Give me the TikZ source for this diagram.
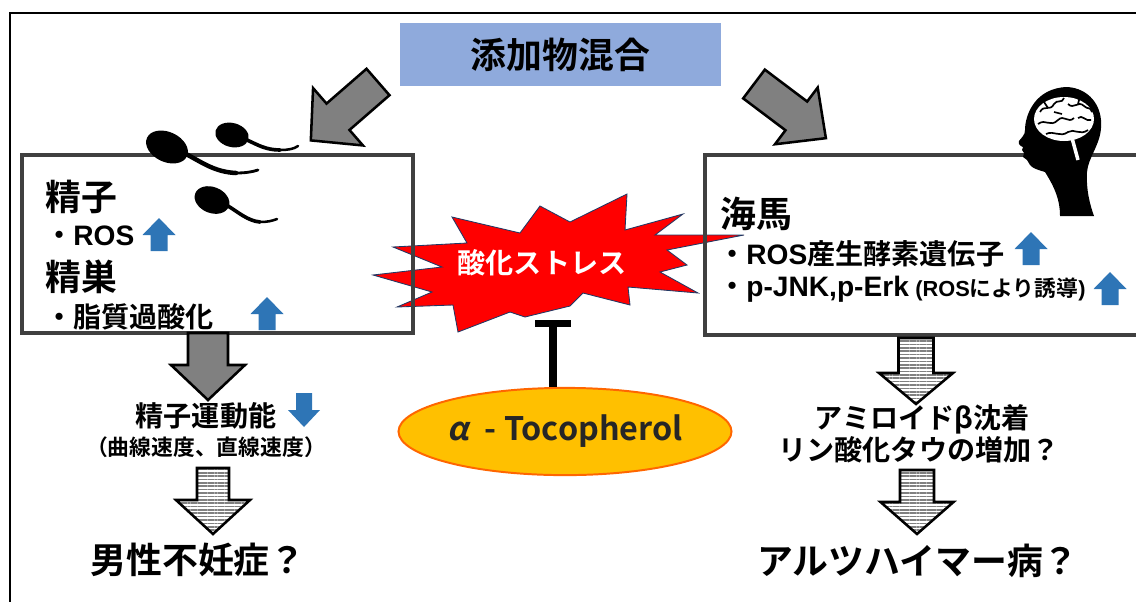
\documentclass[tikz,border=0pt]{standalone}
\usepackage{fontspec}
\setmainfont{Noto Sans CJK JP}[BoldFont={Noto Sans CJK JP Bold}]
\newfontfamily\latinfont{Liberation Sans}
\usetikzlibrary{arrows.meta,positioning,shapes.geometric,patterns.meta}

\definecolor{mixblue}{HTML}{8FAADC}
\definecolor{boxgray}{HTML}{404040}
\definecolor{arrowgray}{HTML}{808080}
\definecolor{markblue}{HTML}{2E75B6}
\definecolor{burstred}{HTML}{FF0000}
\definecolor{burstedge}{HTML}{203864}
\definecolor{tocofill}{HTML}{FFC000}
\definecolor{tocoedge}{HTML}{FF6600}
\definecolor{tocotext}{HTML}{262626}

% block arrow pointing down from its origin:
% shaft width, shaft length, head width, head length
\tikzset{
  pics/blockarrow/.style n args={4}{code={
    \path[pic actions] (-#1/2,0) -- (#1/2,0) -- (#1/2,#2) -- (#3/2,#2)
      -- (0,#2+#4) -- (-#3/2,#2) -- (-#1/2,#2) -- cycle;
  }}
}

\begin{document}
\begin{tikzpicture}[
  x=0.025cm, y=-0.025cm,
  bigtext/.style={font=\bfseries\fontsize{25.5pt}{30pt}\selectfont, inner sep=0pt},
  midtext/.style={font=\bfseries\fontsize{20pt}{24pt}\selectfont, inner sep=0pt},
  smalltext/.style={font=\bfseries\fontsize{15.5pt}{18pt}\selectfont, inner sep=0pt},
  organ/.style={draw=boxgray, line width=2.8pt, inner sep=0pt},
  grayarrow/.style={draw=black, fill=arrowgray, line width=1.8pt},
  stripearrow/.style={
    draw=black,
    line width=1.8pt,
    pattern={Lines[angle=0,distance=2.4pt,line width=1.1pt]},
    pattern color=arrowgray
  },
  trendmark/.style={fill=markblue},
  inhibit/.style={line width=5pt, -{Bar[width=25pt]}}
]
\useasboundingbox (0,0) rectangle (1136,601);

% outer frame
\draw[line width=1.4pt] (10,640) |- (1170,13);

%-----------------------------
% Oxidative stress burst
%-----------------------------
\filldraw[fill=burstred, draw=burstedge, line width=0.6pt]
  (373,275) -- (442,267) -- (393,247) -- (467,243) -- (452,217) -- (520,233)
  -- (540,206) -- (570,222) -- (627,194) -- (625,230) -- (683,214) -- (655,235)
  -- (744,235) -- (667,250) -- (687,265) -- (660,272) -- (698,293) -- (628,287)
  -- (630,305) -- (583,293) -- (570,306) -- (525,317) -- (510,312) -- (458,332)
  -- (453,305) -- (397,307) -- (432,292) -- cycle;
\node[midtext, text=white] (stress) at (542,263) {酸化ストレス};

%-----------------------------
% Organ boxes
%-----------------------------
\node[organ, minimum width=9.775cm, minimum height=4.45cm] (testis) at (217.5,244) {};
\node[organ, minimum width=11cm, minimum height=4.5cm] (hippo) at (925,245) {};

\node[bigtext, fill=mixblue, minimum width=8.03cm, minimum height=1.58cm] (mix) at (560.5,54.5) {添加物混合};

\pic[grayarrow, rotate=-49] at (378,82) {blockarrow={35}{53}{76}{36}};
\pic[grayarrow, rotate=53] at (754,84) {blockarrow={36}{53}{71}{37}};

% sperm / testis
\node[bigtext, anchor=west] (spermttl) at (45,197) {精子};
\node[midtext, anchor=west] (spermros) at (45,236) {・{\latinfont ROS}};
\node[bigtext, anchor=west] (testisttl) at (45,277) {精巣};
\node[midtext, anchor=west] (lipid) at (45,317) {・脂質過酸化};

% hippocampus
\node[bigtext, anchor=west] (hippottl) at (720,214) {海馬};
\node[midtext, anchor=west] (rosgene) at (718,254) {・{\latinfont ROS}産生酵素遺伝子};
\node[midtext, anchor=west] (kinase) at (718,289)
  {・{\latinfont p-JNK,p-Erk} {\fontsize{15.5pt}{18pt}\selectfont{\latinfont(ROS}により誘導{\latinfont)}}};

\foreach \p in {(159,251),(267,330),(1031,265),(1110,305)}
  \pic[trendmark, rotate=180] at \p {blockarrow={17}{16}{33}{17}};

%-----------------------------
% Consequences
%-----------------------------
\pic[grayarrow] at (208,333) {blockarrow={40}{32}{74}{35}};
\node[midtext] (motility) at (206,416) {精子運動能};
\pic[trendmark] at (304,393) {blockarrow={16}{17}{32}{17}};
\node[smalltext] (velocity) at (206,447) {（曲線速度、直線速度）};
\pic[stripearrow] at (213,468) {blockarrow={32}{32}{74}{34}};
\node[bigtext] (infertility) at (198,560) {男性不妊症？};

\pic[stripearrow] at (916,338) {blockarrow={35}{35}{74}{31}};
\node[midtext] (amyloid) at (922,419) {アミロイドβ沈着};
\node[midtext] (tau) at (919,450) {リン酸化タウの増加？};
\pic[stripearrow] at (917,470) {blockarrow={34}{32}{73}{32}};
\node[bigtext] (alzheimer) at (918,561) {アルツハイマー病？};

%-----------------------------
% Sperm cells
%-----------------------------
\fill[rotate around={-25:(167,147)}] (167,147) ellipse (22 and 15);
\draw[line width=3.2pt, line cap=round] (186,154) .. controls (203,163) and (215,172) .. (236,173);
\draw[line width=2pt, line cap=round] (236,173) .. controls (245,173) and (252,172) .. (258,170);
\fill[rotate around={-15:(232,135)}] (232,135) ellipse (17 and 12);
\draw[line width=2.6pt, line cap=round] (247,140) .. controls (258,145) and (266,150) .. (280,150);
\draw[line width=1.8pt, line cap=round] (280,150) .. controls (288,150) and (294,149) .. (298,146);
\fill[rotate around={-22:(212,200)}] (212,200) ellipse (18 and 13);
\draw[line width=2.6pt, line cap=round] (228,206) .. controls (238,212) and (248,221) .. (260,222);
\draw[line width=1.8pt, line cap=round] (260,222) .. controls (267,222) and (272,221) .. (277,219);

%-----------------------------
% Head with brain
%-----------------------------
\fill (1067,87) .. controls (1088,88) and (1103,105) .. (1101,128)
  .. controls (1100,145) and (1088,158) .. (1087,172)
  .. controls (1086,190) and (1090,205) .. (1094,216)
  -- (1060,216)
  .. controls (1060,200) and (1055,188) .. (1045,172)
  .. controls (1038,170) and (1032,168) .. (1030,165)
  -- (1027,160) -- (1023,157) -- (1024,153) -- (1022,150) -- (1023,147)
  .. controls (1020,146) and (1018,144) .. (1019,141)
  .. controls (1022,137) and (1025,135) .. (1025,130)
  .. controls (1025,115) and (1035,88) .. (1067,87) -- cycle;
\fill[white] (1064,119) ellipse (30 and 22);
\draw[line width=1.2pt]
  (1040,112) .. controls (1044,104) and (1050,112) .. (1054,104) .. controls (1057,99) and (1062,104) .. (1064,98)
  (1038,124) .. controls (1046,118) and (1050,128) .. (1058,120) .. controls (1064,114) and (1068,124) .. (1074,118)
  (1068,104) .. controls (1074,110) and (1078,100) .. (1084,106) .. controls (1088,110) and (1090,106) .. (1092,112)
  (1046,134) .. controls (1054,130) and (1060,138) .. (1068,132) .. controls (1074,128) and (1080,136) .. (1088,130)
  (1054,112) -- (1062,114)
  (1078,118) .. controls (1082,114) and (1086,122) .. (1091,120)
  (1044,102) -- (1048,108)
  (1080,96) -- (1078,104);
\draw[white, line width=2.5pt] (1072,138) -- (1078,160);

%-----------------------------
% Tocopherol blocks the stress
%-----------------------------
\node[ellipse, draw=tocoedge, fill=tocofill, line width=1.4pt,
  minimum width=8.1cm, minimum height=2.18cm, inner sep=0pt,
  text=tocotext, font=\bfseries\fontsize{23pt}{28pt}\selectfont]
  (toco) at (565,431.5) {{\addfontfeature{FakeSlant=0.2}α}\hspace{0.5em}- Tocopherol};
\coordinate (stressbot) at (553,319.5);
\draw[inhibit] (toco.north -| stressbot) -- (stressbot);

\end{tikzpicture}
\end{document}
